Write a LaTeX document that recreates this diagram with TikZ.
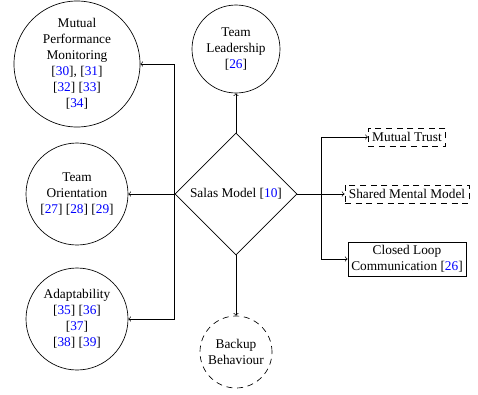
\documentclass[tikz,border=0pt]{standalone}
\usepackage{fontspec}
\setmainfont{Liberation Serif}
\usetikzlibrary{shapes.geometric,arrows}
\tikzstyle{model} = [diamond, aspect=1, minimum size=91.5pt, inner sep=0pt, text centered, draw=black]
\tikzstyle{bigskill} = [circle, minimum size=94.5pt, inner sep=0pt, align=center, draw=black]
\tikzstyle{skill} = [circle, minimum size=76.5pt, inner sep=0pt, align=center, draw=black]
\tikzstyle{smallskill} = [circle, minimum size=66pt, inner sep=0pt, align=center, draw=black]
\tikzstyle{backupskill} = [circle, minimum size=54pt, inner sep=0pt, align=center, draw=black, dash pattern=on 4.5pt off 3.5pt]
\tikzstyle{mech} = [rectangle, minimum height=13.5pt, inner sep=3pt, align=center, draw=black, dash pattern=on 4.5pt off 3.5pt]
\tikzstyle{mechsolid} = [rectangle, inner sep=2.5pt, align=center, draw=black]
\tikzstyle{arrow} = [->]
\newcommand{\rf}[1]{[\textcolor{blue}{#1}]}

\begin{document}
\begin{tikzpicture}[line width=0.5pt]
\useasboundingbox (-177pt,-150pt) rectangle (181.5pt,145.5pt);

\node(salas) [model] {Salas Model \rf{10}};
\node(leader) [smallskill, above of=salas, node distance=108.75pt] {Team\\Leadership\\\rf{26}};
\node(teamori) [skill, left of=salas, node distance=119.25pt] {Team\\Orientation\\\rf{27} \rf{28} \rf{29}};
\node(mpm) [bigskill, above of=teamori, node distance=97.5pt] {Mutual\\Performance\\Monitoring\\\rf{30}, \rf{31}\\\rf{32} \rf{33}\\\rf{34}};
\node(adapt) [skill, below of=teamori, node distance=93.75pt] {Adaptability\\\rf{35} \rf{36}\\\rf{37}\\\rf{38} \rf{39}};
\node(backup) [backupskill, below of=salas, node distance=118.5pt] {Backup\\Behaviour};
\node(smm) [mech, right of=salas, node distance=128.25pt] {Shared Mental Model};
\node(trust) [mech, above of=smm, node distance=42.75pt] {Mutual Trust};
\node(closed) [mechsolid, below of=smm, node distance=48.75pt] {Closed Loop\\Communication \rf{26}};
\coordinate (split) at ([xshift=18pt]salas.east);

\draw [arrow] (salas) -- (leader);
\draw [arrow] (salas) -- (teamori);
\draw [arrow] (salas.west) |- (mpm);
\draw [arrow] (salas.west) |- (adapt);
\draw [arrow] (salas) -- (backup);
\draw [arrow] (salas) -- (smm);
\draw [arrow] (salas.east) -- (split) |- (trust);
\draw [arrow] (split) |- (closed);

\end{tikzpicture}
\end{document}
